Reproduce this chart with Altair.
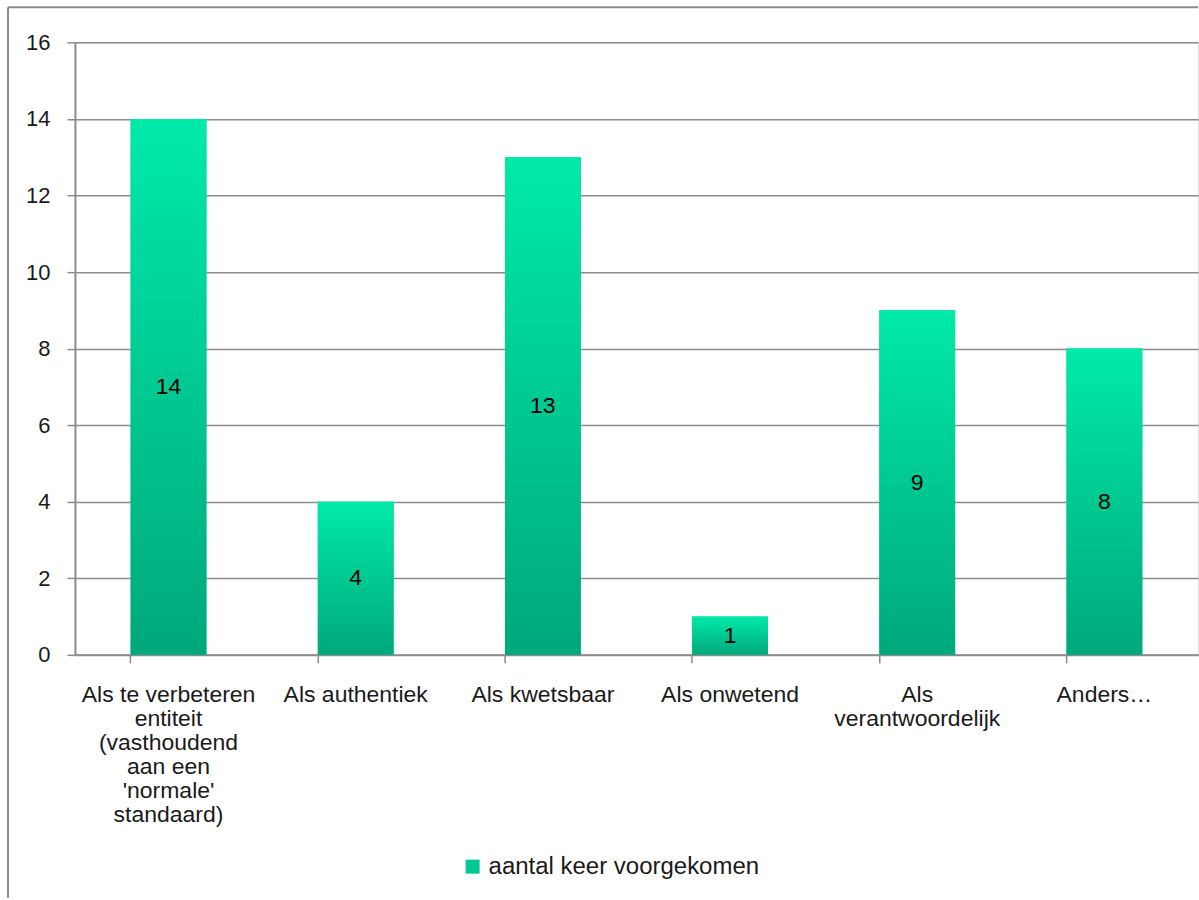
import altair as alt
import pandas as pd

categories = [
    "Als te verbeteren\nentiteit\n(vasthoudend\naan een\n'normale'\nstandaard)",
    "Als authentiek",
    "Als kwetsbaar",
    "Als onwetend",
    "Als\nverantwoordelijk",
    "Anders…",
]
values = [14, 4, 13, 1, 9, 8]
series_name = "aantal keer voorgekomen"
y_ticks = [0, 2, 4, 6, 8, 10, 12, 14, 16]

df = pd.DataFrame({"cat": categories, "val": values, "series": [series_name] * len(values)})

FONT = "Liberation Sans"
W = 1124
H = 613
GRID = "#8c8c8c"
TXT = "#1a1a1a"

grad = alt.Gradient(
    gradient="linear",
    stops=[alt.GradientStop(color="#00EAA9", offset=0), alt.GradientStop(color="#00A87B", offset=1)],
    x1=0, x2=0, y1=0, y2=1,
)

x_enc = alt.X(
    "cat:N",
    sort=categories,
    title=None,
    scale=alt.Scale(paddingInner=0.595, paddingOuter=0.2975),
    axis=alt.Axis(
        labelAngle=0,
        labelExpr="split(datum.label, '\\n')",
        labelLineHeight=24,
        labelFont=FONT,
        labelFontSize=23,
        labelColor=TXT,
        labelPadding=21,
        labelLimit=400,
        bandPosition=0,
        tickSize=8,
        tickColor=GRID,
        tickWidth=1.5,
        domainColor=GRID,
        domainWidth=2,
        grid=False,
    ),
)
y_enc = alt.Y(
    "val:Q",
    title=None,
    scale=alt.Scale(domain=[0, 16], nice=False),
    axis=alt.Axis(
        values=y_ticks,
        labelFont=FONT,
        labelFontSize=22,
        labelColor=TXT,
        labelPadding=17,
        tickSize=8,
        tickColor=GRID,
        tickWidth=1.5,
        domainColor=GRID,
        domainWidth=2,
        gridColor=GRID,
        gridWidth=1.5,
    ),
)

legend_bars = alt.Chart(df).mark_bar().encode(
    x=x_enc,
    y=y_enc,
    color=alt.Color(
        "series:N",
        scale=alt.Scale(range=["#00C892"]),
        legend=alt.Legend(
            title=None,
            orient="none",
            legendX=386,
            legendY=813,
            symbolType="square",
            symbolSize=196,
            symbolStrokeWidth=0,
            labelFont=FONT,
            labelFontSize=24,
            labelColor=TXT,
            labelOffset=4,
            labelLimit=600,
        ),
    ),
)

bars = alt.Chart(df).mark_bar(color=grad).encode(x=x_enc, y=y_enc)

labels = alt.Chart(df).transform_calculate(mid="datum.val / 2").mark_text(
    font=FONT, fontSize=23, color="#000000", baseline="middle", align="center"
).encode(
    x=alt.X("cat:N", sort=categories),
    y=alt.Y("mid:Q"),
    text=alt.Text("val:Q"),
)

border_left = alt.Chart(df.head(1)).mark_rule(color=GRID, strokeWidth=2).encode(
    x=alt.value(-67), y=alt.value(-35), y2=alt.value(856)
)
border_top = alt.Chart(df.head(1)).mark_rule(color=GRID, strokeWidth=2).encode(
    x=alt.value(-67), x2=alt.value(W), y=alt.value(-35)
)

chart = alt.layer(legend_bars, bars, labels, border_left, border_top).properties(
    width=W,
    height=H,
    padding={"left": 7, "top": 6, "right": 0, "bottom": 0},
).configure_view(stroke=None).configure(background="white")

chart.save("out.html", embed_options={"renderer": "svg", "actions": False})
